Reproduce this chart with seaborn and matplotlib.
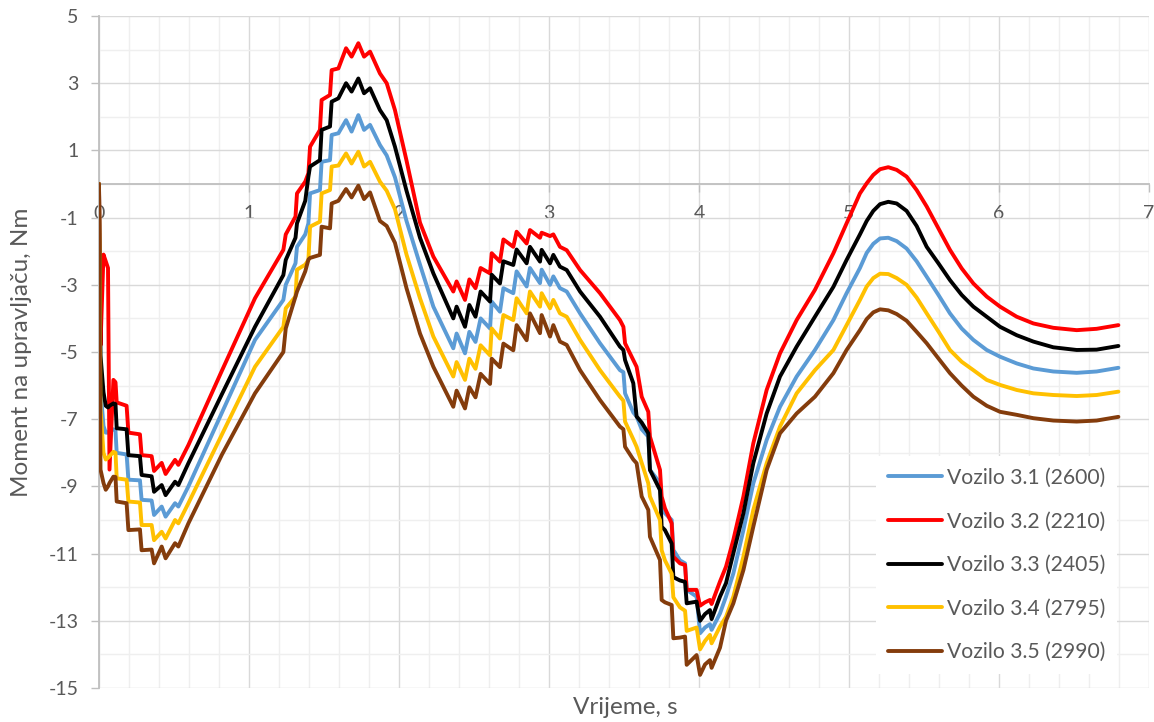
import matplotlib
matplotlib.use("Agg")
import matplotlib.pyplot as plt
import pandas as pd
import seaborn as sns
from matplotlib.lines import Line2D
from matplotlib.ticker import MultipleLocator, FixedLocator

# ---------------- data ----------------
time_s = [
    0.0, 0.01, 0.03, 0.045, 0.06, 0.07, 0.096, 0.11, 0.118, 0.184, 0.196, 0.273, 0.284,
    0.351, 0.367, 0.418, 0.444, 0.507, 0.529, 0.596, 0.82, 1.04,
    1.229, 1.245, 1.31, 1.32, 1.375, 1.396, 1.407, 1.473, 1.484, 1.54, 1.551, 1.596,
    1.647, 1.684, 1.729, 1.767, 1.807, 1.873, 1.918, 1.973, 2.05, 2.14, 2.229,
    2.362, 2.384, 2.44, 2.469, 2.51, 2.544, 2.607, 2.618, 2.673, 2.696, 2.762, 2.784,
    2.851, 2.873, 2.94, 2.951, 3.007, 3.029, 3.073, 3.118, 3.207, 3.34,
    3.473, 3.496, 3.507, 3.562, 3.584, 3.618, 3.662, 3.673, 3.74, 3.751, 3.773, 3.818,
    3.829, 3.873, 3.907, 3.918, 3.984, 4.007, 4.04, 4.073, 4.084, 4.14,
    4.18, 4.229, 4.296, 4.362, 4.451, 4.54, 4.651, 4.773, 4.896, 4.984, 5.073, 5.118,
    5.162, 5.207, 5.262, 5.318, 5.384, 5.451, 5.518, 5.596, 5.673, 5.751, 5.829, 5.918,
    6.007, 6.118, 6.229, 6.362, 6.518, 6.651, 6.796,
]

vozilo_31 = [  # blue
    0, -6.1, -7.2, -7.4, -7.4, -7.35, -7.3, -7.35, -8.0, -8.05, -8.8, -8.82, -9.4,
    -9.42, -9.85, -9.6, -9.9, -9.5, -9.6, -9.0, -6.8, -4.64,
    -3.45, -3.0, -2.36, -1.87, -1.5, -1.17, -0.28, -0.18, 0.66, 0.71, 1.46, 1.51,
    1.9, 1.56, 2.05, 1.61, 1.76, 1.16, 0.85, 0.2, -1.1, -2.4, -3.65,
    -4.89, -4.45, -5.04, -4.4, -4.7, -4.0, -4.3, -3.5, -3.8, -3.1, -3.25, -2.6,
    -3.05, -2.5, -2.95, -2.55, -3.0, -2.75, -3.1, -3.2, -3.85, -4.74,
    -5.54, -5.6, -6.23, -6.8, -6.92, -7.3, -7.52, -8.51, -8.9, -9.6, -9.8, -10.0,
    -10.89, -11.2, -11.29, -12.08, -12.28, -13.37, -13.2, -13.1, -13.27, -12.78,
    -12.28, -11.59, -10.3, -8.91, -7.62, -6.63, -5.73, -4.94, -4.05, -3.25, -2.5, -2.05,
    -1.78, -1.62, -1.6, -1.7, -1.92, -2.3, -2.76, -3.3, -3.85, -4.3, -4.64, -4.94,
    -5.14, -5.34, -5.49, -5.58, -5.62, -5.58, -5.47,
]

vozilo_32 = [  # red
    0, -4.8, -2.1, -2.3, -2.5, -8.5, -5.83, -5.9, -6.5, -6.6, -7.4, -7.45, -8.07,
    -8.1, -8.54, -8.3, -8.63, -8.21, -8.36, -7.77, -5.55, -3.4,
    -1.96, -1.5, -0.97, -0.28, 0.07, 0.32, 1.11, 1.61, 2.5, 2.65, 3.39, 3.44,
    4.04, 3.79, 4.19, 3.79, 3.94, 3.29, 3.0, 2.2, 0.7, -1.15, -2.16,
    -3.2, -2.9, -3.45, -2.84, -3.1, -2.5, -2.66, -2.06, -2.31, -1.65, -1.87, -1.42,
    -1.77, -1.37, -1.6, -1.45, -1.55, -1.5, -1.87, -1.97, -2.56, -3.25,
    -4.05, -4.25, -4.74, -5.24, -5.44, -6.33, -6.78, -7.52, -8.51, -9.3, -9.65, -10.1,
    -11.09, -11.29, -11.34, -12.08, -12.08, -12.55, -12.45, -12.38, -12.5, -11.83,
    -11.39, -10.59, -9.3, -7.72, -6.13, -5.04, -4.05, -3.15, -2.06, -1.17, -0.28, 0.02,
    0.27, 0.44, 0.5, 0.42, 0.22, -0.18, -0.67, -1.32, -1.96, -2.51, -2.96, -3.35,
    -3.65, -3.95, -4.15, -4.28, -4.35, -4.31, -4.2,
]

vozilo_33 = [  # black
    0, -5.1, -6.2, -6.6, -6.65, -6.6, -6.53, -6.55, -7.27, -7.3, -8.07, -8.1, -8.66,
    -8.7, -9.16, -8.96, -9.26, -8.86, -8.96, -8.31, -6.25, -4.25,
    -2.71, -2.26, -1.6, -1.17, -0.5, 0.22, 0.52, 0.71, 1.61, 1.71, 2.45, 2.55,
    3.0, 2.75, 3.14, 2.7, 2.85, 2.2, 1.9, 1.11, -0.2, -1.6, -2.66,
    -4.0, -3.65, -4.25, -3.6, -3.95, -3.2, -3.5, -2.7, -2.96, -2.3, -2.41, -1.95,
    -2.36, -1.87, -2.31, -1.96, -2.36, -2.11, -2.46, -2.56, -3.2, -3.95,
    -4.84, -4.94, -5.24, -5.93, -6.92, -7.1, -7.42, -8.51, -9.11, -10.2, -10.3, -10.7,
    -11.7, -11.8, -11.84, -12.48, -12.43, -13.0, -12.8, -12.68, -12.95, -12.28,
    -11.88, -10.99, -9.8, -8.31, -6.83, -5.73, -4.84, -3.95, -3.06, -2.26, -1.5, -1.1,
    -0.8, -0.6, -0.53, -0.58, -0.8, -1.25, -1.87, -2.36, -2.86, -3.3, -3.65, -3.95,
    -4.25, -4.5, -4.69, -4.86, -4.94, -4.93, -4.82,
]

vozilo_34 = [  # yellow
    0, -6.7, -8.0, -8.2, -8.15, -8.1, -7.97, -8.0, -8.76, -8.8, -9.45, -9.48, -10.15,
    -10.15, -10.6, -10.35, -10.55, -10.0, -10.1, -9.5, -7.45, -5.44,
    -4.25, -3.7, -3.35, -2.55, -2.4, -2.26, -1.27, -1.12, -0.28, -0.18, 0.52, 0.55,
    0.91, 0.61, 0.96, 0.52, 0.66, 0.07, -0.2, -0.75, -2.1, -3.4, -4.54,
    -5.73, -5.3, -5.83, -5.2, -5.5, -4.8, -5.1, -4.3, -4.6, -3.9, -4.05, -3.4,
    -3.85, -3.2, -3.65, -3.25, -3.7, -3.45, -3.85, -3.95, -4.64, -5.54,
    -6.33, -6.45, -7.07, -7.6, -7.82, -8.3, -8.91, -9.3, -10.0, -10.9, -11.2, -11.6,
    -12.3, -12.6, -12.7, -13.3, -13.2, -13.85, -13.6, -13.42, -13.67, -13.17,
    -12.88, -12.28, -11.09, -9.7, -8.31, -7.22, -6.23, -5.54, -4.94, -4.2, -3.45, -3.05,
    -2.8, -2.67, -2.68, -2.8, -3.0, -3.38, -3.85, -4.39, -4.94, -5.29, -5.54, -5.83,
    -5.98, -6.13, -6.23, -6.28, -6.31, -6.28, -6.18,
]

vozilo_35 = [  # brown
    0, -8.5, -8.9, -9.1, -9.0, -8.9, -8.71, -8.72, -9.45, -9.5, -10.3, -10.28, -10.9,
    -10.88, -11.29, -10.79, -11.14, -10.69, -10.79, -10.1, -8.05, -6.23,
    -5.0, -4.3, -3.35, -3.2, -2.6, -2.25, -2.2, -2.11, -1.27, -1.32, -0.58, -0.5,
    -0.15, -0.4, -0.05, -0.45, -0.25, -1.1, -1.25, -1.75, -3.1, -4.45, -5.44,
    -6.63, -6.15, -6.68, -6.05, -6.35, -5.65, -5.95, -5.2, -5.45, -4.75, -4.95, -4.2,
    -4.65, -3.85, -4.44, -3.9, -4.54, -4.2, -4.69, -4.79, -5.54, -6.43,
    -7.22, -7.3, -7.82, -8.2, -8.31, -9.3, -9.7, -10.5, -11.19, -12.38, -12.45, -12.53,
    -13.52, -13.5, -13.47, -14.31, -14.02, -14.61, -14.3, -14.17, -14.4, -13.8,
    -13.0, -12.48, -11.49, -10.2, -8.51, -7.42, -6.83, -6.33, -5.63, -4.94, -4.35, -4.02,
    -3.82, -3.73, -3.76, -3.87, -4.07, -4.4, -4.74, -5.19, -5.63, -6.0, -6.33, -6.6,
    -6.78, -6.87, -6.97, -7.04, -7.07, -7.04, -6.93,
]

series_labels = [
    "Vozilo 3.1 (2600)",
    "Vozilo 3.2 (2210)",
    "Vozilo 3.3 (2405)",
    "Vozilo 3.4 (2795)",
    "Vozilo 3.5 (2990)",
]
series_values = [vozilo_31, vozilo_32, vozilo_33, vozilo_34, vozilo_35]
series_colors = ["#5B9BD5", "#FF0000", "#000000", "#FFC000", "#843C0C"]

x_ticks = [0, 1, 2, 3, 4, 5, 6, 7]
y_ticks = [-15, -13, -11, -9, -7, -5, -3, -1, 1, 3, 5]
x_title = "Vrijeme, s"
y_title = "Moment na upravljaču, Nm"

# ---------------- figure ----------------
sns.set_style("white")
plt.rcParams["font.family"] = ["Lato", "DejaVu Sans"]

W, H = 1154, 722
fig = plt.figure(figsize=(W / 100, H / 100), dpi=100)
ax = fig.add_axes([99 / W, 1 - 688 / H, 1050 / W, 672 / H])

frames = []
for lab, vals in zip(series_labels, series_values):
    frames.append(pd.DataFrame({"t": time_s, "v": vals, "serija": lab}))
df = pd.concat(frames, ignore_index=True)

sns.lineplot(
    data=df, x="t", y="v", hue="serija", hue_order=series_labels,
    palette=dict(zip(series_labels, series_colors)),
    estimator=None, sort=False, linewidth=2.8, legend=False, ax=ax,
    solid_joinstyle="round", solid_capstyle="round",
)

ax.set_xlim(0, 7)
ax.set_ylim(-15, 5)
ax.xaxis.set_major_locator(FixedLocator(x_ticks))
ax.xaxis.set_minor_locator(MultipleLocator(0.2))
ax.yaxis.set_major_locator(FixedLocator(y_ticks))
ax.yaxis.set_minor_locator(FixedLocator(list(range(-14, 5, 2))))
ax.set_xticklabels([str(v) for v in x_ticks])
ax.set_yticklabels([str(v) for v in y_ticks])

ax.set_axisbelow(True)
ax.grid(which="major", color="#D9D9D9", linewidth=1.0)
ax.grid(which="minor", color="#EFEFEF", linewidth=1.0)

for s in ("top", "right"):
    ax.spines[s].set_visible(False)
ax.spines["bottom"].set_position(("data", 0))
for s in ("bottom", "left"):
    ax.spines[s].set_color("#BFBFBF")
    ax.spines[s].set_linewidth(1.3)
    ax.spines[s].set_zorder(1)

ax.tick_params(axis="both", which="major", direction="out", length=5.8, width=1.0,
               color="#BFBFBF", labelcolor="#595959", labelsize=14,
               bottom=True, left=True)
ax.tick_params(axis="x", which="major", pad=9)
ax.tick_params(axis="y", which="major", pad=9)
ax.tick_params(which="minor", length=0)

ax.set_xlabel("")
ax.set_ylabel("")
fig.text(625 / W, 1 - 708 / H, x_title, ha="center", va="center",
         fontsize=17.5, color="#595959")
fig.text(22 / W, 1 - 352 / H, y_title, ha="center", va="center", rotation=90,
         fontsize=17.5, color="#595959")

handles = [Line2D([0], [0], color=c, linewidth=2.8, solid_capstyle="round")
           for c in series_colors]
leg = ax.legend(handles, series_labels, loc="center", bbox_to_anchor=(0.855, 0.183),
                frameon=True, facecolor="white", edgecolor="none", framealpha=1,
                fancybox=False, fontsize=15.2, labelcolor="#595959",
                handlelength=2.55, handletextpad=0.25, labelspacing=1.12,
                borderpad=0.55)

fig.savefig("out.png", dpi=100)
